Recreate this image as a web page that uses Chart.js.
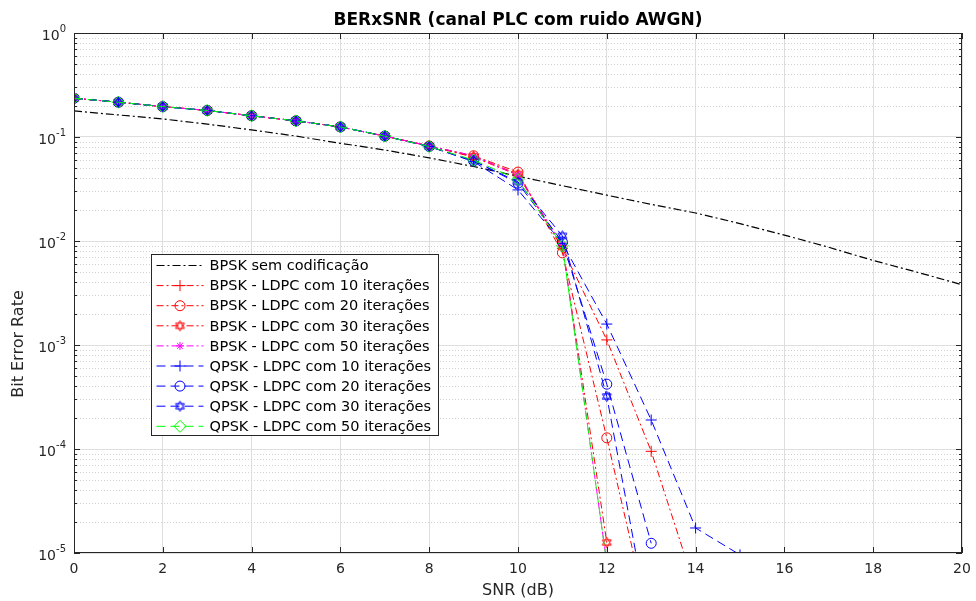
<!DOCTYPE html>
<html>
<head>
<meta charset="utf-8">
<script src="https://cdn.jsdelivr.net/npm/chart.js@4.4.1/dist/chart.umd.min.js"></script>
<style>
  body { margin: 0; background: #fff; }
  #berChart { display: block; }
</style>
</head>
<body>
<canvas id="berChart" width="976" height="601"></canvas>
<script>
// SNR axis (dB)
const snr = [0, 1, 2, 3, 4, 5, 6, 7, 8, 9, 10, 11, 12, 13, 14, 15, 16, 17, 18, 19, 20];

// BER values
const bpskUncoded = [0.178, 0.163, 0.149, 0.133, 0.117, 0.102, 0.087, 0.075, 0.063, 0.052, 0.042,
                     0.034, 0.0276, 0.0225, 0.0186, 0.0147, 0.0114, 0.0087, 0.0065, 0.0050, 0.0038];
const bpsk10 = [0.236, 0.216, 0.196, 0.180, 0.160, 0.143, 0.125, 0.102, 0.082, 0.064, 0.043, 0.0085, 0.00112, 9.5e-5, 4.5e-6];
const bpsk20 = [0.236, 0.216, 0.196, 0.180, 0.160, 0.143, 0.125, 0.102, 0.082, 0.066, 0.046, 0.0077, 1.28e-4, 1.8e-6];
const bpsk30 = [0.236, 0.216, 0.196, 0.180, 0.160, 0.143, 0.125, 0.102, 0.082, 0.065, 0.044, 0.0088, 1.26e-5];
const bpsk50 = [0.236, 0.216, 0.196, 0.180, 0.160, 0.143, 0.125, 0.102, 0.082, 0.066, 0.043, 0.0092, 8e-6];
const qpsk10 = [0.236, 0.216, 0.196, 0.180, 0.160, 0.143, 0.125, 0.102, 0.081, 0.058, 0.031, 0.0095, 0.00159, 1.9e-4, 1.74e-5, 9.6e-6];
const qpsk20 = [0.236, 0.216, 0.196, 0.180, 0.160, 0.143, 0.125, 0.102, 0.081, 0.059, 0.036, 0.0098, 4.2e-4, 1.24e-5];
const qpsk30 = [0.236, 0.216, 0.196, 0.180, 0.160, 0.143, 0.125, 0.102, 0.081, 0.059, 0.037, 0.0112, 3.2e-4, 1.6e-6];
const qpsk50 = [0.236, 0.216, 0.196, 0.180, 0.160, 0.143, 0.125, 0.102, 0.081, 0.060, 0.039, 0.0090, 8e-6];

const seriesNames = [
    'BPSK sem codificação',
    'BPSK - LDPC com 10 iterações',
    'BPSK - LDPC com 20 iterações',
    'BPSK - LDPC com 30 iterações',
    'BPSK - LDPC com 50 iterações',
    'QPSK - LDPC com 10 iterações',
    'QPSK - LDPC com 20 iterações',
    'QPSK - LDPC com 30 iterações',
    'QPSK - LDPC com 50 iterações'
];
const xTicks = [0, 2, 4, 6, 8, 10, 12, 14, 16, 18, 20];
const yExponents = [-5, -4, -3, -2, -1, 0];
const yMin = 1e-5, yMax = 1;

const FONT = "'DejaVu Sans', sans-serif";
const RED = '#ff0000', BLUE = '#0000ff', GREEN = '#00ff00', MAG = '#ff00ff', BLACK = '#000000';
const DASHDOT = [7, 3, 2, 3];
const DASHED = [9, 5];

// hexagram marker (two overlapping triangles)
function hexagram(color) {
    var c = document.createElement('canvas');
    c.width = 13; c.height = 13;
    var g = c.getContext('2d');
    g.strokeStyle = color;
    g.lineWidth = 1;
    var r = 5.2, cx = 6.5, cy = 6.5;
    [-Math.PI / 2, Math.PI / 2].forEach(function(a0) {
        g.beginPath();
        for (var k = 0; k < 3; k++) {
            var a = a0 + k * 2 * Math.PI / 3;
            var px = cx + r * Math.cos(a), py = cy + r * Math.sin(a);
            if (k === 0) g.moveTo(px, py); else g.lineTo(px, py);
        }
        g.closePath();
        g.stroke();
    });
    return c;
}

function pts(values) {
    return values.map(function(v, i) { return {x: snr[i], y: v}; });
}

const styles = [
    {data: bpskUncoded, color: BLACK, dash: [8, 3, 2, 3], point: false, r: 0, width: 1.2},
    {data: bpsk10, color: RED, dash: DASHDOT, point: 'cross', r: 5.5},
    {data: bpsk20, color: RED, dash: DASHDOT, point: 'circle', r: 5},
    {data: bpsk30, color: RED, dash: DASHDOT, point: hexagram(RED), r: 6},
    {data: bpsk50, color: MAG, dash: DASHDOT, point: 'star', r: 4},
    {data: qpsk10, color: BLUE, dash: DASHED, point: 'cross', r: 5.5},
    {data: qpsk20, color: BLUE, dash: DASHED, point: 'circle', r: 5},
    {data: qpsk30, color: BLUE, dash: DASHED, point: hexagram(BLUE), r: 6},
    {data: qpsk50, color: GREEN, dash: DASHED, point: 'rectRot', r: 6}
];

const datasets = styles.map(function(s, i) {
    return {
        label: seriesNames[i],
        data: pts(s.data),
        borderColor: s.color,
        backgroundColor: 'rgba(0,0,0,0)',
        borderWidth: s.width || 1,
        borderDash: s.dash,
        pointStyle: s.point,
        pointRadius: s.r,
        pointBorderColor: s.color,
        pointBackgroundColor: 'rgba(0,0,0,0)',
        pointBorderWidth: 1,
        tension: 0,
        fill: false,
        order: styles.length - 1 - i
    };
});

function isDecade(v) {
    var l = Math.log10(v);
    return Math.abs(l - Math.round(l)) < 1e-9;
}

// minor dotted grid under the data
const minorGridPlugin = {
    id: 'minorGrid',
    beforeDatasetsDraw: function(chart) {
        var ctx = chart.ctx, a = chart.chartArea, ys = chart.scales.y;
        ctx.save();
        ctx.strokeStyle = '#d2d2d2';
        ctx.lineWidth = 1;
        ctx.setLineDash([1, 2]);
        ctx.beginPath();
        ys.ticks.forEach(function(t) {
            if (isDecade(t.value)) return;
            var py = Math.round(ys.getPixelForValue(t.value)) + 0.5;
            ctx.moveTo(a.left, py); ctx.lineTo(a.right, py);
        });
        ctx.stroke();
        ctx.restore();
    }
};

// title, axes box, inner tick marks, y labels and the legend box
const decorPlugin = {
    id: 'decor',
    afterDraw: function(chart) {
        var ctx = chart.ctx, a = chart.chartArea;
        var xs = chart.scales.x, ys = chart.scales.y;
        ctx.save();
        // title
        ctx.fillStyle = '#000';
        ctx.font = 'bold 17px ' + FONT;
        ctx.textAlign = 'center';
        ctx.textBaseline = 'middle';
        ctx.fillText('BERxSNR (canal PLC com ruido AWGN)', (a.left + a.right) / 2, 21);

        // y axis title
        ctx.save();
        ctx.translate(19, 344);
        ctx.rotate(-Math.PI / 2);
        ctx.fillStyle = '#262626';
        ctx.font = '16px ' + FONT;
        ctx.fillText('Bit Error Rate', 0, 0);
        ctx.restore();

        // y tick labels 10^n
        ctx.fillStyle = '#262626';
        ctx.textAlign = 'right';
        ctx.textBaseline = 'alphabetic';
        yExponents.forEach(function(e) {
            var py = ys.getPixelForValue(Math.pow(10, e));
            var ex = String(e);
            ctx.font = '10px ' + FONT;
            var ew = ctx.measureText(ex).width;
            ctx.fillText(ex, 66, py - 1);
            ctx.font = '14px ' + FONT;
            ctx.fillText('10', 66 - ew, py + 7);
        });

        // box
        ctx.strokeStyle = '#262626';
        ctx.lineWidth = 1;
        ctx.strokeRect(a.left + 0.5, a.top + 0.5, a.right - a.left - 1, a.bottom - a.top - 1);

        // inner ticks
        ctx.beginPath();
        xTicks.forEach(function(v) {
            var px = Math.round(xs.getPixelForValue(v)) + 0.5;
            ctx.moveTo(px, a.bottom); ctx.lineTo(px, a.bottom - 6);
            ctx.moveTo(px, a.top); ctx.lineTo(px, a.top + 6);
        });
        ys.ticks.forEach(function(t) {
            var py = Math.round(ys.getPixelForValue(t.value)) + 0.5;
            var len = isDecade(t.value) ? 6 : 3;
            ctx.moveTo(a.left, py); ctx.lineTo(a.left + len, py);
            ctx.moveTo(a.right, py); ctx.lineTo(a.right - len, py);
        });
        ctx.stroke();

        // legend
        var lx = 151.5, ly = 254.5, lw = 287, lh = 181;
        ctx.fillStyle = '#fff';
        ctx.fillRect(lx, ly, lw, lh);
        ctx.strokeStyle = '#262626';
        ctx.strokeRect(lx, ly, lw, lh);
        ctx.font = '14.5px ' + FONT;
        ctx.textAlign = 'left';
        ctx.textBaseline = 'middle';
        chart.data.datasets.forEach(function(ds, i) {
            var y = ly + 11 + i * 20.1;
            ctx.save();
            ctx.strokeStyle = ds.borderColor;
            ctx.lineWidth = ds.borderWidth;
            ctx.setLineDash(ds.borderDash);
            ctx.beginPath();
            ctx.moveTo(lx + 5, y);
            ctx.lineTo(lx + 52, y);
            ctx.stroke();
            ctx.setLineDash([]);
            if (ds.pointStyle) {
                ctx.fillStyle = 'rgba(0,0,0,0)';
                Chart.helpers.drawPoint(ctx, {
                    pointStyle: ds.pointStyle, radius: ds.pointRadius, rotation: 0, borderWidth: 1
                }, lx + 28.5, y);
            }
            ctx.restore();
            ctx.fillStyle = '#000';
            ctx.fillText(ds.label, lx + 58, y + 1);
        });
        ctx.restore();
    }
};

new Chart(document.getElementById('berChart').getContext('2d'), {
    type: 'line',
    data: {datasets: datasets},
    plugins: [minorGridPlugin, decorPlugin],
    options: {
        responsive: false,
        animation: false,
        layout: {padding: {top: 33, right: 14, left: 0, bottom: 0}},
        plugins: {
            legend: {display: false},
            tooltip: {enabled: false},
            title: {display: false}
        },
        scales: {
            x: {
                type: 'linear',
                min: 0,
                max: 20,
                afterBuildTicks: function(scale) {
                    scale.ticks = xTicks.map(function(v) { return {value: v}; });
                },
                afterFit: function(scale) {
                    scale.height = 48;
                    scale.paddingLeft = 0;
                    scale.paddingRight = 0;
                },
                grid: {color: '#dedede', lineWidth: 1, drawTicks: false},
                border: {display: false},
                ticks: {color: '#262626', font: {family: FONT, size: 14}, padding: 8, maxRotation: 0, autoSkip: false},
                title: {display: true, text: 'SNR (dB)', color: '#262626', font: {family: FONT, size: 16}, padding: {top: 0, bottom: 1}}
            },
            y: {
                type: 'logarithmic',
                min: yMin,
                max: yMax,
                afterBuildTicks: function(scale) {
                    var t = [];
                    for (var e = -5; e < 0; e++) {
                        for (var k = 1; k <= 9; k++) t.push({value: k * Math.pow(10, e)});
                    }
                    t.push({value: 1});
                    scale.ticks = t;
                },
                afterFit: function(scale) { scale.width = 74; },
                grid: {
                    drawTicks: false,
                    color: function(c) { return c.tick && isDecade(c.tick.value) ? '#dedede' : 'rgba(0,0,0,0)'; },
                    lineWidth: 1
                },
                border: {display: false},
                ticks: {display: false, autoSkip: false},
                title: {display: false}
            }
        }
    }
});
</script>
</body>
</html>
